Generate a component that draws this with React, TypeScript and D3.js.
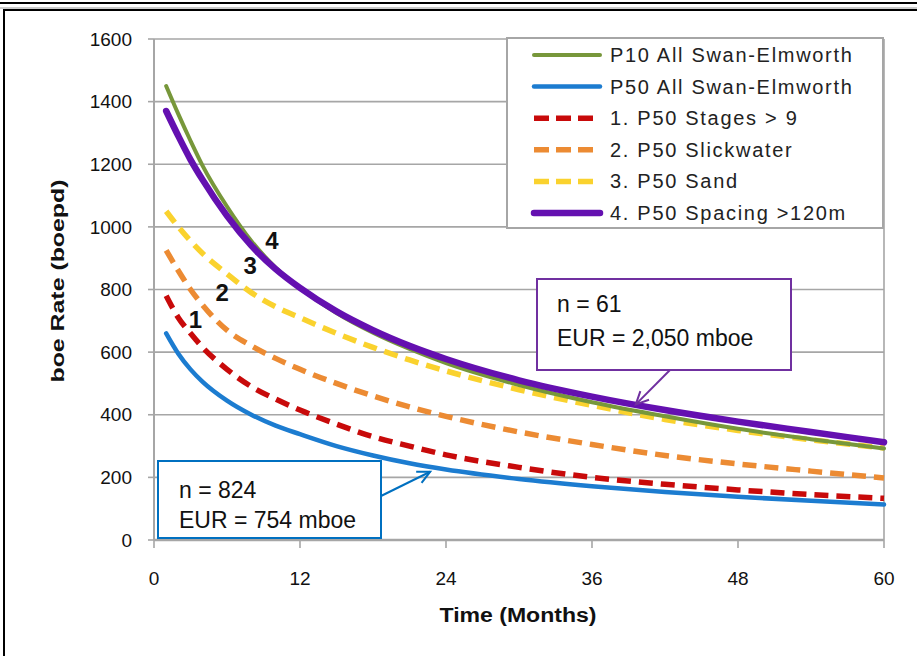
import React from "react";
import * as d3 from "d3";

// Months at which each decline curve is sampled
const months = [1, 2, 3, 4, 6, 8, 10, 12, 15, 18, 21, 24, 30, 36, 42, 48, 54, 60];

// boe rates (boepd) for each type curve
const p10All = [1450, 1360, 1275, 1195, 1065, 955, 870, 805, 725, 662, 610, 565, 495, 440, 395, 355, 322, 292];
const p50All = [660, 595, 545, 505, 445, 400, 365, 338, 300, 270, 245, 225, 195, 172, 153, 138, 125, 113];
const p50Stages = [780, 710, 660, 615, 545, 490, 450, 415, 370, 330, 300, 272, 232, 200, 178, 160, 145, 133];
const p50Slick = [925, 860, 800, 750, 670, 620, 580, 545, 500, 460, 425, 395, 345, 305, 270, 243, 220, 198];
const p50Sand = [1050, 1000, 955, 915, 850, 790, 745, 710, 660, 615, 575, 540, 480, 430, 385, 350, 320, 294];
const p50Spacing = [1370, 1290, 1215, 1150, 1035, 940, 865, 805, 730, 670, 620, 578, 510, 458, 415, 378, 345, 312];

const xTicks = [0, 12, 24, 36, 48, 60];
const yTicks = [0, 200, 400, 600, 800, 1000, 1200, 1400, 1600];

type Series = {
  name: string;
  values: number[];
  color: string;
  width: number;
  dash?: string;
};

const series: Series[] = [
  { name: "P10 All Swan-Elmworth", values: p10All, color: "#77973A", width: 4 },
  { name: "P50 All Swan-Elmworth", values: p50All, color: "#1C7CD0", width: 4.5 },
  { name: "1. P50 Stages > 9", values: p50Stages, color: "#C80A0A", width: 5.5, dash: "14,8" },
  { name: "2. P50 Slickwater", values: p50Slick, color: "#EC8B33", width: 5.5, dash: "14,8" },
  { name: "3. P50 Sand", values: p50Sand, color: "#FAD22E", width: 5.5, dash: "14,8" },
  { name: "4. P50 Spacing >120m", values: p50Spacing, color: "#6410B0", width: 6.5 },
];

// Draw order: dashed first, solids on top, spacing curve last
const drawOrder = [4, 3, 2, 0, 1, 5];

const curveLabels = [
  { text: "1", month: 3.4, value: 705 },
  { text: "2", month: 5.6, value: 790 },
  { text: "3", month: 7.9, value: 875 },
  { text: "4", month: 9.7, value: 955 },
];

const W = 917;
const H = 656;
const left = 154;
const right = 884;
const top = 39;
const bottom = 540;

export default function App() {
  const x = d3.scaleLinear().domain([0, 60]).range([left, right]);
  const y = d3.scaleLinear().domain([0, 1600]).range([bottom, top]);

  const line = d3
    .line<number>()
    .x((_, i) => x(months[i]))
    .y((d) => y(d))
    .curve(d3.curveMonotoneX);

  const grid = "#A6A6A6";
  const font = "'Liberation Sans', Arial, sans-serif";

  // callout arrow tips
  const purpleTip = [x(39.6), y(433)];
  const blueTip = [x(22.7), y(218)];

  const arrowHead = (fx: number, fy: number, tx: number, ty: number) => {
    const a = Math.atan2(ty - fy, tx - fx);
    const len = 14;
    const spread = 0.45;
    const p1 = [tx - len * Math.cos(a - spread), ty - len * Math.sin(a - spread)];
    const p2 = [tx - len * Math.cos(a + spread), ty - len * Math.sin(a + spread)];
    return `M${p1[0]},${p1[1]}L${tx},${ty}L${p2[0]},${p2[1]}`;
  };

  const legendX = 507;
  const legendY = 38;
  const legendRowY = (i: number) => 55 + i * 31.6;

  return (
    <svg
      width={W}
      height={H}
      style={{ position: "fixed", left: 0, top: 0, background: "#fff" }}
    >
      <rect x={0} y={0} width={W} height={H} fill="#fff" />
      {/* outer frame */}
      <line x1={0} x2={W} y1={3} y2={3} stroke="#000" strokeWidth={2} />
      <line x1={0} x2={W} y1={8} y2={8} stroke="#999" strokeWidth={1} />
      <rect x={4} y={10} width={W + 20} height={H + 20} fill="none" stroke="#000" strokeWidth={2} />

      {/* gridlines */}
      {yTicks.map((t) => (
        <line key={t} x1={left} x2={right} y1={y(t)} y2={y(t)} stroke={grid} strokeWidth={1.6} />
      ))}
      <line x1={right} x2={right} y1={top} y2={bottom} stroke={grid} strokeWidth={1.6} />
      {/* y axis */}
      <line x1={left} x2={left} y1={top} y2={bottom} stroke={grid} strokeWidth={2} />
      {yTicks.map((t) => (
        <g key={"yt" + t}>
          <line x1={left - 6} x2={left} y1={y(t)} y2={y(t)} stroke={grid} strokeWidth={1.6} />
          <text
            x={132}
            y={y(t)}
            dy="0.35em"
            textAnchor="end"
            fontFamily={font}
            fontSize={19}
            fill="#111"
          >
            {t}
          </text>
        </g>
      ))}
      {/* x axis */}
      <line x1={left} x2={right} y1={bottom} y2={bottom} stroke={grid} strokeWidth={2.4} />
      {xTicks.map((t) => (
        <g key={"xt" + t}>
          <line x1={x(t)} x2={x(t)} y1={bottom} y2={bottom + 8} stroke={grid} strokeWidth={1.6} />
          <text
            x={x(t)}
            y={578}
            dy="0.35em"
            textAnchor="middle"
            fontFamily={font}
            fontSize={19}
            fill="#111"
          >
            {t}
          </text>
        </g>
      ))}

      {/* axis titles */}
      <text
        x={518}
        y={615}
        dy="0.35em"
        textAnchor="middle"
        fontFamily={font}
        fontSize={20}
        fontWeight="bold"
        textLength={157}
        lengthAdjust="spacingAndGlyphs"
        fill="#111"
      >
        Time (Months)
      </text>
      <text
        transform={`translate(57,281) rotate(-90)`}
        dy="0.35em"
        textAnchor="middle"
        fontFamily={font}
        fontSize={19}
        fontWeight="bold"
        textLength={203}
        lengthAdjust="spacingAndGlyphs"
        fill="#111"
      >
        boe Rate (boepd)
      </text>

      {/* curves */}
      {drawOrder.map((i) => {
        const s = series[i];
        return (
          <path
            key={s.name}
            d={line(s.values) ?? ""}
            fill="none"
            stroke={s.color}
            strokeWidth={s.width}
            strokeDasharray={s.dash}
            strokeLinecap={s.dash ? "butt" : "round"}
          />
        );
      })}

      {/* curve number labels */}
      {curveLabels.map((l) => (
        <text
          key={l.text}
          x={x(l.month)}
          y={y(l.value)}
          dy="0.35em"
          textAnchor="middle"
          fontFamily={font}
          fontSize={24}
          fontWeight="bold"
          fill="#111"
        >
          {l.text}
        </text>
      ))}

      {/* legend */}
      <rect
        x={legendX}
        y={legendY}
        width={376}
        height={190}
        fill="#fff"
        stroke={grid}
        strokeWidth={2}
      />
      {series.map((s, i) => (
        <g key={"lg" + s.name}>
          <line
            x1={534}
            x2={600}
            y1={legendRowY(i)}
            y2={legendRowY(i)}
            stroke={s.color}
            strokeWidth={s.width}
            strokeDasharray={s.dash ? "15,7" : undefined}
            strokeLinecap={s.dash ? "butt" : "round"}
          />
          <text
            x={610}
            y={legendRowY(i)}
            dy="0.35em"
            fontFamily={font}
            fontSize={20}
            letterSpacing={1.7}
            fill="#222"
          >
            {s.name}
          </text>
        </g>
      ))}

      {/* callout: spacing curve */}
      <path
        d={`M670,370L${purpleTip[0]},${purpleTip[1]}`}
        stroke="#7030A0"
        strokeWidth={2}
        fill="none"
      />
      <path
        d={arrowHead(670, 370, purpleTip[0], purpleTip[1])}
        stroke="#7030A0"
        strokeWidth={2}
        fill="none"
      />
      <rect x={537} y={279} width={254} height={91} fill="#fff" stroke="#7030A0" strokeWidth={2} />
      <text x={557} y={304} dy="0.35em" fontFamily={font} fontSize={23} fill="#111">
        n = 61
      </text>
      <text x={557} y={338} dy="0.35em" fontFamily={font} fontSize={23} fill="#111">
        EUR = 2,050 mboe
      </text>

      {/* callout: all wells */}
      <path
        d={`M381,496L${blueTip[0]},${blueTip[1]}`}
        stroke="#0070C0"
        strokeWidth={2}
        fill="none"
      />
      <path
        d={arrowHead(381, 496, blueTip[0], blueTip[1])}
        stroke="#0070C0"
        strokeWidth={2}
        fill="none"
      />
      <rect x={158} y={461} width={223} height={77} fill="#fff" stroke="#0070C0" strokeWidth={2} />
      <text x={179} y={490} dy="0.35em" fontFamily={font} fontSize={23} fill="#111">
        n = 824
      </text>
      <text x={179} y={520} dy="0.35em" fontFamily={font} fontSize={23} fill="#111">
        EUR = 754 mboe
      </text>
    </svg>
  );
}
